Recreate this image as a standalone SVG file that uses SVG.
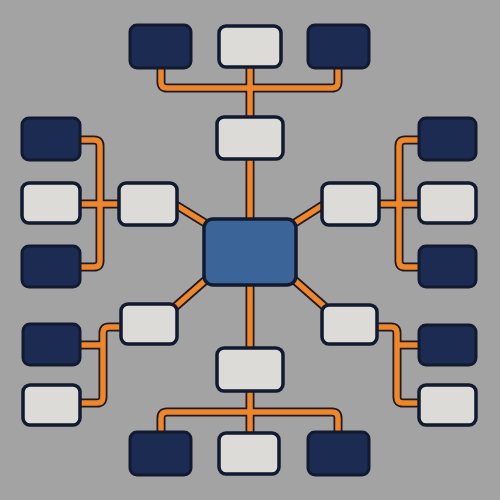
<svg xmlns="http://www.w3.org/2000/svg" width="500" height="500" viewBox="0 0 500 500">
<style>
.o{fill:none;stroke:#1e1a22;stroke-width:9;stroke-linejoin:round;stroke-linecap:butt}
.c{fill:none;stroke:#f0862a;stroke-width:5.5;stroke-linejoin:round;stroke-linecap:butt}
.d{fill:#1c2b52;stroke:#121a30;stroke-width:3}
.l{fill:#dddbd7;stroke:#121a30;stroke-width:3.5}
.m{fill:#3b6598;stroke:#121a30;stroke-width:3.5}
</style>
<defs>
<g id="paths">
<path d="M161,68 V82 Q161,88 167,88 H332 Q338,88 338,82 V68"/>
<path d="M250,67 V219"/>
<path d="M250,285 V433"/>
<path d="M161,432 V418 Q161,412 167,412 H332 Q338,412 338,418 V432"/>
<path d="M80,140 H94 Q100,140 100,146 V261 Q100,267 94,267 H80"/>
<path d="M80,204 H119"/>
<path d="M420,140 H405 Q399,140 399,146 V261 Q399,267 405,267 H420"/>
<path d="M379,204 H420"/>
<path d="M121,327 H109 Q103,327 103,333 V397 Q103,403 97,403 H80"/>
<path d="M80,345 H103"/>
<path d="M377,327 H391 Q397,327 397,333 V397 Q397,403 403,403 H420"/>
<path d="M397,345 H420"/>
<path d="M176,205 L210,226"/>
<path d="M323,205 L290,226"/>
<path d="M175,307 L208,278"/>
<path d="M325,307 L292,278"/>
</g>
</defs>
<rect width="500" height="500" fill="#a3a3a3"/>
<g id="connectors">
<use href="#paths" class="o"/>
<use href="#paths" class="c"/>
</g>
<g id="center"><rect class="m" x="204" y="219" width="92" height="66" rx="9"/></g>
<g id="top"><rect class="l" x="217" y="117" width="66" height="42" rx="7"/></g>
<g id="top-a"><rect class="d" x="130" y="25" width="61" height="43" rx="7"/></g>
<g id="top-b"><rect class="l" x="219" y="26" width="62" height="41" rx="7"/></g>
<g id="top-c"><rect class="d" x="308" y="25" width="61" height="43" rx="7"/></g>
<g id="left"><rect class="l" x="119" y="183" width="58" height="42" rx="7"/></g>
<g id="left-a"><rect class="d" x="22" y="118" width="58" height="42" rx="7"/></g>
<g id="left-b"><rect class="l" x="22" y="183" width="58" height="40" rx="7"/></g>
<g id="left-c"><rect class="d" x="22" y="246" width="58" height="41" rx="7"/></g>
<g id="right"><rect class="l" x="322" y="183" width="57" height="42" rx="7"/></g>
<g id="right-a"><rect class="d" x="419" y="118" width="57" height="42" rx="7"/></g>
<g id="right-b"><rect class="l" x="419" y="183" width="57" height="40" rx="7"/></g>
<g id="right-c"><rect class="d" x="419" y="246" width="57" height="41" rx="7"/></g>
<g id="lower-left"><rect class="l" x="121" y="304" width="56" height="40" rx="7"/></g>
<g id="lower-left-a"><rect class="d" x="23" y="324" width="57" height="41" rx="7"/></g>
<g id="lower-left-b"><rect class="l" x="23" y="385" width="57" height="40" rx="7"/></g>
<g id="lower-right"><rect class="l" x="322" y="305" width="55" height="39" rx="7"/></g>
<g id="lower-right-a"><rect class="d" x="419" y="325" width="57" height="40" rx="7"/></g>
<g id="lower-right-b"><rect class="l" x="419" y="385" width="57" height="40" rx="7"/></g>
<g id="bottom"><rect class="l" x="217" y="348" width="66" height="43" rx="7"/></g>
<g id="bottom-a"><rect class="d" x="130" y="432" width="61" height="43" rx="7"/></g>
<g id="bottom-b"><rect class="l" x="219" y="433" width="60" height="41" rx="7"/></g>
<g id="bottom-c"><rect class="d" x="308" y="432" width="61" height="43" rx="7"/></g>
</svg>
